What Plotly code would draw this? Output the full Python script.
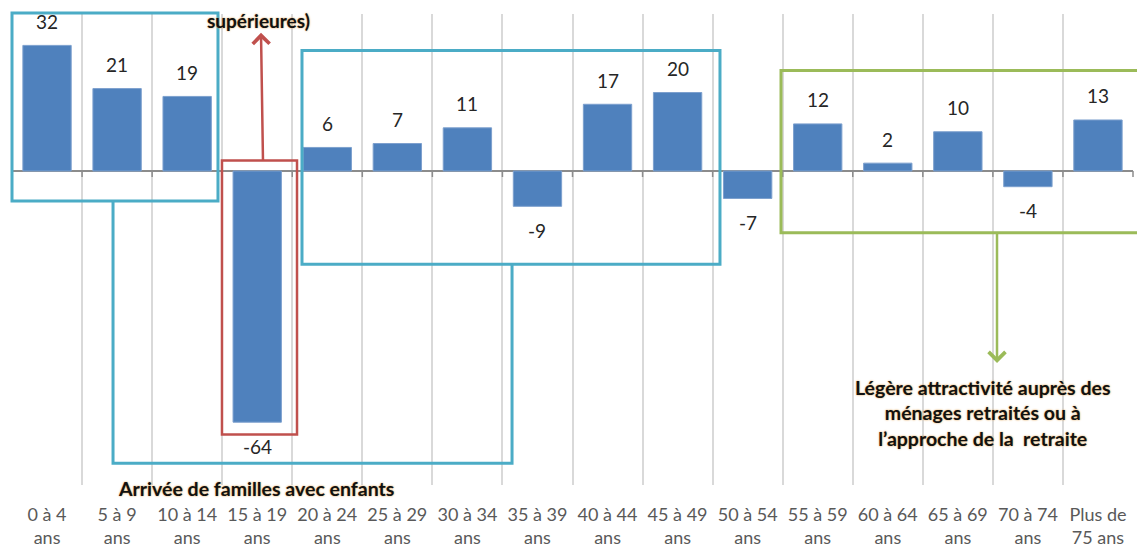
import plotly.graph_objects as go

categories = ["0 à 4<br>ans", "5 à 9<br>ans", "10 à 14<br>ans", "15 à 19<br>ans",
              "20 à 24<br>ans", "25 à 29<br>ans", "30 à 34<br>ans", "35 à 39<br>ans",
              "40 à 44<br>ans", "45 à 49<br>ans", "50 à 54<br>ans", "55 à 59<br>ans",
              "60 à 64<br>ans", "65 à 69<br>ans", "70 à 74<br>ans", "Plus de<br>75 ans"]
values = [32, 21, 19, -64, 6, 7, 11, -9, 17, 20, -7, 12, 2, 10, -4, 13]

note_top = "supérieures)"
note_families = "Arrivée de familles avec enfants"
note_retired = "Légère attractivité auprès des<br>ménages retraités ou à<br>l’approche de la  retraite"

Y_MIN, Y_MAX = -80, 40
N = len(categories)

BLUE = "#4F81BD"
TEAL = "#4BACC6"
RED = "#C0504D"
GREEN = "#9BBB59"
FONT = "Lato"


def px(i):
    """category index -> paper x"""
    return (i + 0.5) / N


def py(v):
    """data value -> paper y"""
    return (v - Y_MIN) / (Y_MAX - Y_MIN)


fig = go.Figure()
fig.add_trace(go.Bar(
    x=categories, y=values,
    marker=dict(color=BLUE, line=dict(color="#7DA0CE", width=1)),
    hoverinfo="x+y",
))

annotations = []
for c, v in zip(categories, values):
    annotations.append(dict(
        x=c, y=v, xref="x", yref="y", text=str(v), showarrow=False,
        yshift=24 if v >= 0 else -24, yanchor="middle", xanchor="center",
        font=dict(family=FONT, size=19, color="#262626"),
    ))

bold_font = dict(family=FONT, size=19.5, color="#111111", weight="bold",
                 shadow="0px 0px 2px #d9953a")
top_font = dict(bold_font, size=19)

annotations += [
    dict(x=0.2203, y=0.9853, xref="paper", yref="paper", text=note_top,
         showarrow=False, yanchor="middle", xanchor="center", font=top_font),
    dict(x=0.2175, y=-0.0065, xref="paper", yref="paper", text=note_families,
         showarrow=False, yanchor="middle", xanchor="center", font=bold_font),
    dict(x=0.8653, y=0.152, xref="paper", yref="paper", text=note_retired,
         showarrow=False, yanchor="middle", xanchor="center", align="center",
         font=bold_font),
    # red arrow
    dict(x=px(3.054), y=py(35.2), xref="paper", yref="paper", text="",
         showarrow=True, ax=2, ay=129, arrowhead=4, arrowsize=1.3,
         arrowwidth=2.5, arrowcolor=RED),
    # green arrow
    dict(x=px(13.559), y=py(-48.9), xref="paper", yref="paper", text="",
         showarrow=True, ax=0, ay=-131, arrowhead=4, arrowsize=1.3,
         arrowwidth=2.5, arrowcolor=GREEN),
]

shapes = []
# small tick marks on the zero line
for k in range(N + 1):
    shapes.append(dict(type="line", xref="paper", yref="y", x0=k / N, x1=k / N,
                       ysizemode="pixel", yanchor=0, y0=0, y1=-6,
                       line=dict(color="#8c8c8c", width=1.5)))

# teal box 1
shapes.append(dict(type="rect", xref="paper", yref="paper",
                   x0=px(-0.5), x1=px(2.44), y0=py(-7.65), y1=py(40.25),
                   line=dict(color=TEAL, width=3)))
# teal box 3
shapes.append(dict(type="rect", xref="paper", yref="paper",
                   x0=px(3.639), x1=px(9.605), y0=py(-23.78), y1=py(30.67),
                   line=dict(color=TEAL, width=3)))
# teal elbow connector
shapes.append(dict(type="path", xref="paper", yref="paper",
                   path=(f"M {px(0.942)} {py(-7.65)} L {px(0.942)} {py(-74.45)} "
                         f"L {px(6.637)} {py(-74.45)} L {px(6.637)} {py(-23.78)}"),
                   line=dict(color=TEAL, width=3)))
# red box
shapes.append(dict(type="rect", xref="paper", yref="paper",
                   x0=px(2.497), x1=px(3.568), y0=py(-67.14), y1=py(2.69),
                   line=dict(color=RED, width=2.5)))
# green box
shapes.append(dict(type="rect", xref="paper", yref="paper",
                   x0=px(10.476), x1=px(16.2), y0=py(-15.71), y1=py(25.63),
                   line=dict(color=GREEN, width=3)))

fig.update_layout(
    width=1137, height=544,
    margin=dict(l=4, r=12, t=6, b=62),
    plot_bgcolor="white", paper_bgcolor="white",
    showlegend=False,
    bargap=0.31,
    annotations=annotations,
    shapes=shapes,
    xaxis=dict(type="category", range=[-0.5, N - 0.5], tickson="boundaries",
               showgrid=True, gridcolor="#d9d9d9", gridwidth=1.5,
               ticks="", showline=False, ticklabelstandoff=17,
               tickfont=dict(family=FONT, size=18, color="#595959"),
               fixedrange=True),
    yaxis=dict(range=[Y_MIN, Y_MAX], showticklabels=False, showgrid=False,
               zeroline=True, zerolinecolor="#8c8c8c", zerolinewidth=2,
               fixedrange=True),
)

fig.write_html("out.html")
